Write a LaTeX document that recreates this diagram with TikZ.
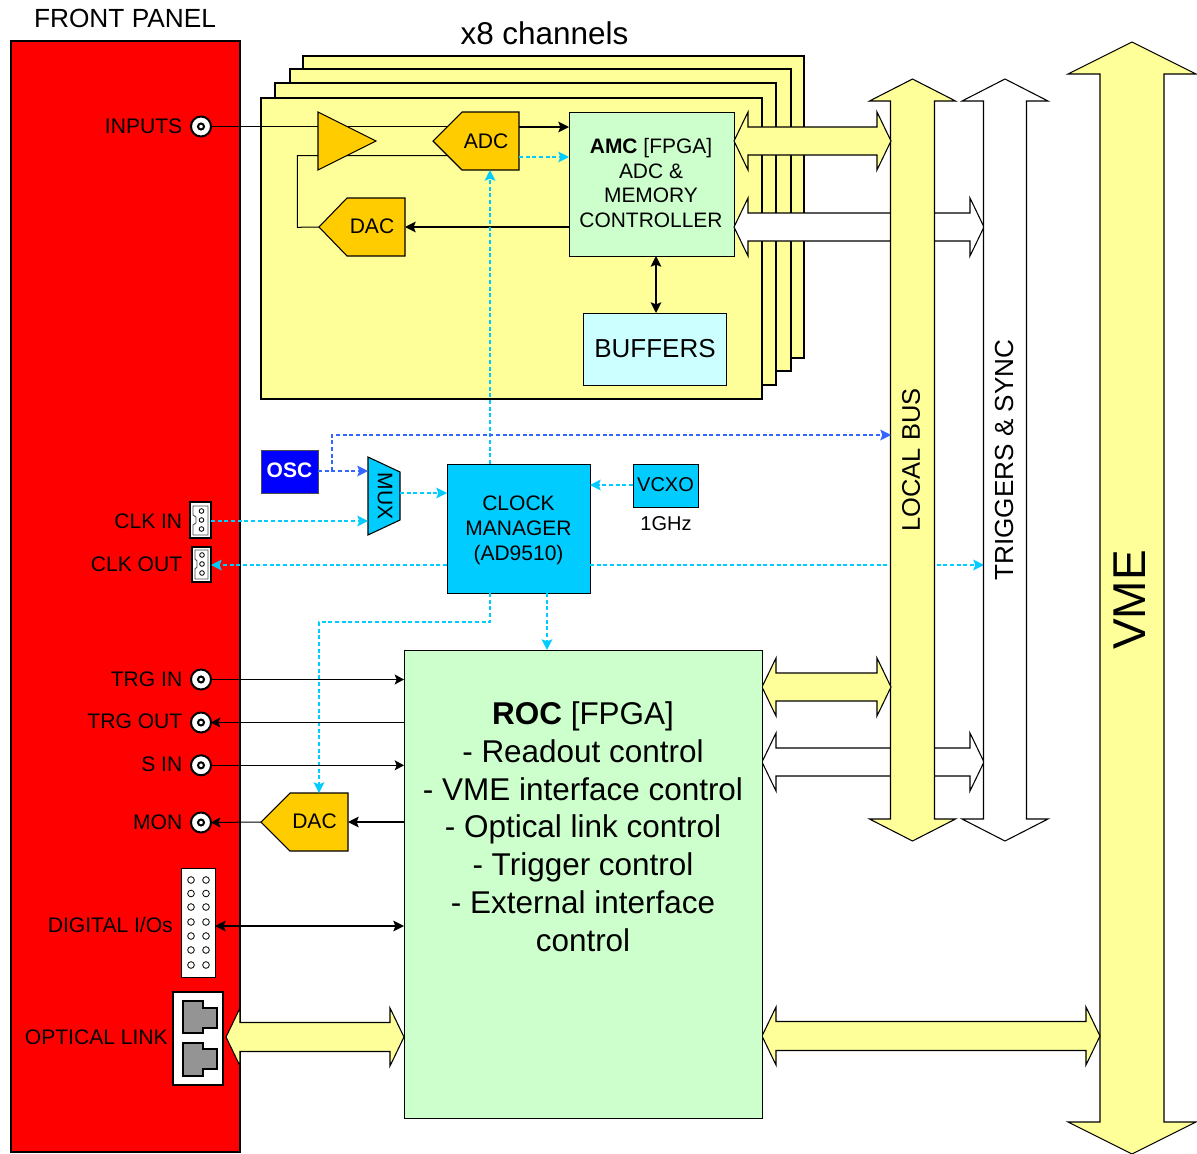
\documentclass[tikz,border=0pt]{standalone}
\usepackage{fontspec}
\setmainfont{Liberation Sans}
\usetikzlibrary{arrows.meta,calc}
\newcommand\szA{\fontsize{15.8pt}{19pt}\selectfont}
\newcommand\szB{\fontsize{19.7pt}{23pt}\selectfont}
\newcommand\szC{\fontsize{23.6pt}{28.4pt}\selectfont}
% box from corner (x1,y1) to (x2,y2)
\newcommand\pxbox[6]{%
  \pgfmathsetmacro\bw{(#4-#2)*0.75}\pgfmathsetmacro\bh{(#5-#3)*0.75}%
  \node[#6,minimum width=\bw pt,minimum height=\bh pt,inner sep=0pt,outer sep=0pt] (#1) at ({(#2+#4)/2},{(#3+#5)/2}) {};}
% horizontal double block arrow: x1,x2,yc,shaft half,head half,style
\newcommand\hblock[6]{\draw[#6] (#1,#3) -- (#1+14,#3-#5) -- (#1+14,#3-#4) -- (#2-14,#3-#4) -- (#2-14,#3-#5) -- (#2,#3) -- (#2-14,#3+#5) -- (#2-14,#3+#4) -- (#1+14,#3+#4) -- (#1+14,#3+#5) -- cycle;}
% vertical double block arrow: xc,y1,y2,shaft half,head half,head len,style
\newcommand\vblock[7]{\draw[#7] (#1,#2) -- (#1+#5,#2+#6) -- (#1+#4,#2+#6) -- (#1+#4,#3-#6) -- (#1+#5,#3-#6) -- (#1,#3) -- (#1-#5,#3-#6) -- (#1-#4,#3-#6) -- (#1-#4,#2+#6) -- (#1-#5,#2+#6) -- cycle;}
\newcommand\bnc[2]{\node[bncouter] (#1) at (201,#2) {};\node[bncinner] at (201,#2) {};}
\definecolor{pyellow}{HTML}{FFFF99}
\definecolor{pamber}{HTML}{FFCC00}
\definecolor{pgreen}{HTML}{CCFFCC}
\definecolor{plcyan}{HTML}{CCFFFF}
\definecolor{pcyan}{HTML}{00CCFF}
\definecolor{pblue}{HTML}{3366FF}
\tikzset{
  thin line/.style={draw=black,line width=0.75pt},
  card/.style={draw=black,fill=pyellow,line width=1.5pt},
  block/.style={draw=black,line width=0.8pt,line join=miter},
  yblock/.style={block,fill=pyellow},
  wblock/.style={block,fill=white},
  amber/.style={draw=black,fill=pamber,line width=0.8pt},
  sig/.style={draw=black,line width=0.75pt,-{Stealth[length=7pt,width=7.5pt,inset=1.5pt]}},
  sigb/.style={draw=black,line width=1.1pt,-{Stealth[length=8pt,width=8pt,inset=1.5pt]}},
  sigbb/.style={draw=black,line width=1.1pt,{Stealth[length=8pt,width=8pt,inset=1.5pt]}-{Stealth[length=8pt,width=8pt,inset=1.5pt]}},
  cdash/.style={draw=pcyan,line width=1.3pt,dash pattern=on 3pt off 2pt,-{Stealth[length=8pt,width=8pt,inset=1.5pt]}},
  bdash/.style={draw=pblue,line width=1.3pt,dash pattern=on 3pt off 2pt,-{Stealth[length=8pt,width=8pt,inset=1.5pt]}},
  lab/.style={inner sep=0pt,font=\szA,text=black},
  rlab/.style={lab,anchor=east},
  bncouter/.style={circle,draw=black,fill=white,line width=1.5pt,minimum size=15pt,inner sep=0pt,outer sep=0pt},
  bncinner/.style={circle,draw=black,fill=white,line width=1.5pt,minimum size=4.5pt,inner sep=0pt},
  pinhole/.style={circle,draw=black,fill=white,line width=0.6pt,minimum size=5pt,inner sep=0pt},
  smallhole/.style={circle,draw=black,fill=white,line width=0.6pt,minimum size=3.5pt,inner sep=0pt},
  rj/.style={draw=black,fill=black!42,line width=1.1pt},
}
\begin{document}
\begin{tikzpicture}[x=0.75pt,y=-0.75pt]
\useasboundingbox (0,0) rectangle (1197,1154);
% front panel
\pxbox{panel}{11}{41}{240}{1152}{draw=black,fill=red,line width=1.5pt}
\node[lab,font=\szB] (fptitle) at (125,18.5) {FRONT PANEL};
% channel cards
\pxbox{card4}{303}{56}{804}{358}{card}
\pxbox{card3}{290}{69}{791}{371}{card}
\pxbox{card2}{275}{83}{776}{385}{card}
\pxbox{card1}{261}{98}{762}{399}{card}
\node[lab,font=\szC] (x8) at (544.5,33.5) {x8 channels};
% connectors on panel
\bnc{inputs}{126.5}
\bnc{trgin}{679.5}
\bnc{trgout}{722.5}
\bnc{sin}{765.3}
\bnc{mon}{822.5}
\node[rlab] (linputs) at (182.5,126) {INPUTS};
\node[rlab] (lclkin) at (182.5,521) {CLK IN};
\node[rlab] (lclkout) at (182.5,564) {CLK OUT};
\node[rlab] (ltrgin) at (182.5,679) {TRG IN};
\node[rlab] (ltrgout) at (182.5,721) {TRG OUT};
\node[rlab] (lsin) at (182.5,764) {S IN};
\node[rlab] (lmon) at (182.5,822) {MON};
\node[rlab] (ldig) at (173,925) {DIGITAL I/Os};
\node[rlab] (lopt) at (168,1037) {OPTICAL LINK};
% CLK IN
\pxbox{clkin}{190}{502}{211}{538}{draw=black,fill=white,line width=0.8pt}
\draw[draw=black!70,line width=0.7pt] (193,506) -- (208,506) -- (208,535) -- (193,535) -- (193,525) -- (196,523) -- (196,517) -- (193,515) -- cycle;
\foreach \yy in {511,520,529} \node[smallhole] at (201.5,\yy) {};
% CLK OUT
\pxbox{clkout}{192}{547}{211}{582}{draw=black,fill=white,line width=0.8pt}
\draw[draw=black!70,line width=0.7pt] (195,550) -- (208,550) -- (208,579) -- (195,579) -- (195,569) -- (197,567) -- (197,561) -- (195,559) -- cycle;
\foreach \yy in {555,564,573} \node[smallhole] at (202,\yy) {};
% Digital I/O
\pxbox{digio}{181}{868}{215}{977}{draw=black,fill=white,line width=0.6pt}
\foreach \yy in {880,893.5,907,922,936,950,965} {\node[pinhole] at (191,\yy) {};\node[pinhole] at (206,\yy) {};}
% optical
\pxbox{optbox}{173}{992}{223}{1085}{draw=black,fill=white,line width=1.1pt}
\draw[rj] (183,1001) -- (203,1001) -- (203,1008) -- (217,1008) -- (217,1028) -- (203,1028) -- (203,1033) -- (183,1033) -- cycle;
\draw[rj] (183,1043) -- (203,1043) -- (203,1049) -- (217,1049) -- (217,1069) -- (203,1069) -- (203,1076) -- (183,1076) -- cycle;
% front-end coordinates
\coordinate (amptop) at (318,112);
\coordinate (ampbot) at (318,170);
\coordinate (amptip) at (376,141);
\coordinate (adctip) at (433,141);
\coordinate (dactip) at (319,227);
\coordinate (fb) at (297.3,227.3);
% lines behind the amplifier
\draw[thin line] (inputs.east) -- (adctip |- inputs.east) -- +(15,0);
\draw[thin line] (447,155.5) -- (fb |- 0,155.5) -- (fb) -- (dactip);
\draw[amber] (amptop) -- (amptip) -- (ampbot) -- cycle;
\draw[amber] (adctip) -- (462,112) -- (519,112) -- (519,170) -- (462,170) -- cycle;
\node[lab] (ladc) at (486,141) {ADC};
\draw[amber] (dactip) -- (347,198) -- (405,198) -- (405,256) -- (347,256) -- cycle;
\node[lab] (ldac) at (372,226.5) {DAC};
\coordinate (adcr) at (519,141);
\coordinate (adcb) at (490,170);
\coordinate (dacr) at (405,227);
% AMC & buffers
\pxbox{amc}{569}{112}{734}{256}{draw=black,fill=pgreen,line width=0.7pt}
\node[lab,align=center,font=\fontsize{15.7pt}{18.7pt}\selectfont] (amct) at (651,183) {\textbf{AMC} [FPGA]\\ADC \&\\MEMORY\\CONTROLLER};
\pxbox{buffers}{583}{313}{726}{385}{draw=black,fill=plcyan,line width=0.7pt}
\node[lab,font=\fontsize{19.5pt}{23pt}\selectfont] (lbuf) at (655,348.5) {BUFFERS};
\draw[sigb] (adcr |- 0,127) -- (amc.west |- 0,127);
\draw[cdash] (adcr |- 0,157) -- (amc.west |- 0,157);
\draw[sigb] (amc.west |- dacr) -- (dacr);
\draw[sigbb] (amc.south -| 656,0) -- (buffers.north -| 656,0);
% block arrows, horizontal
\hblock{734}{984}{227}{14}{29}{wblock}
\hblock{762}{984}{762}{14}{29}{wblock}
% clock out to the triggers (behind the buses)
\pxbox{cm}{447}{464}{590}{593}{draw=black,fill=pcyan,line width=0.7pt}
\coordinate (trgedge) at (984,565);
\coordinate (lbedge) at (891,435);
\draw[cdash] (cm.east |- trgedge) -- (trgedge);
% vertical buses
\vblock{1005}{79}{841}{21.5}{43}{22}{wblock}
\vblock{912.5}{79}{841}{22}{43}{22}{yblock}
\vblock{1132}{42}{1154}{32}{64}{32}{yblock}
\hblock{734}{891}{141}{14}{29}{yblock}
\hblock{762}{891}{687}{14}{29}{yblock}
\hblock{762}{1100}{1036}{14.5}{29}{yblock}
\hblock{226}{404}{1037}{14.5}{29}{yblock}
\node[lab,rotate=90,font=\fontsize{19.1pt}{22pt}\selectfont] (llb) at (911,460) {LOCAL BUS};
\node[lab,rotate=90,font=\fontsize{19.6pt}{23pt}\selectfont] (ltrg) at (1004,460) {TRIGGERS \& SYNC};
\node[lab,rotate=90,font=\fontsize{34.5pt}{38pt}\selectfont] (lvme) at (1130,600) {VME};
% clock section
\node[lab,align=center,font=\fontsize{15.75pt}{19pt}\selectfont,text depth=0pt] (lcm) at (518.5,528) {CLOCK\\MANAGER\\(AD9510)};
\pxbox{vcxo}{633}{464}{698}{507}{draw=black,fill=pcyan,line width=0.7pt}
\node[lab,font=\fontsize{15pt}{18pt}\selectfont] (lvcxo) at (665.5,485) {VCXO};
\node[lab,font=\fontsize{15pt}{18pt}\selectfont] (l1g) at (666,524) {1GHz};
\pxbox{osc}{261}{450}{318}{493}{draw=black!70,fill=blue,line width=0.7pt}
\node[lab,text=white,font=\fontsize{15.75pt}{19pt}\selectfont\bfseries] (losc) at (289.5,470) {OSC};
\draw[draw=black,fill=pcyan,line width=0.8pt] (368,457) -- (400,472) -- (400,520) -- (368,535) -- cycle;
\coordinate (muxl) at (368,471);
\coordinate (muxl2) at (368,521);
\coordinate (muxr) at (400,493);
\node[lab,rotate=-90] (lmux) at (385,496) {MUX};
% clock connectors
\draw[cdash] (cm.north -| adcb) -- (adcb);
\draw[bdash] (osc.east |- muxl) -- (muxl);
\draw[bdash] (332,471) -- (332,435) -- (lbedge);
\draw[cdash] (muxr) -- (cm.west |- muxr);
\coordinate (vcxol) at (633,485);
\draw[cdash] (vcxol) -- (cm.east |- vcxol);
\draw[cdash] (clkin.east |- muxl2) -- (muxl2);
\draw[cdash] (cm.west |- 0,565) -- (clkout.east |- 0,565);
% ROC
\pxbox{roc}{404}{650}{762}{1118}{draw=black,fill=pgreen,line width=0.7pt}
\node[lab,align=center,font=\szC] (lroc) at (583,826.7) {\textbf{ROC} [FPGA]\\- Readout control\\- VME interface control\\- Optical link control\\- Trigger control\\- External interface\\control};
\draw[cdash] (cm.south -| 547,0) -- (roc.north -| 547,0);
% mon DAC
\draw[amber] (261,822) -- (290,793) -- (348,793) -- (348,851) -- (290,851) -- cycle;
\coordinate (mdactip) at (261,822);
\coordinate (mdacr) at (348,822);
\coordinate (mdact) at (319,793);
\node[lab] (lmdac) at (314.5,821.5) {DAC};
\draw[cdash] (cm.south -| 490,0) -- (490,622) -- (319,622) -- (mdact);
\draw[sig] (trgin.east) -- (roc.west |- trgin.east);
\draw[sig] (roc.west |- trgout.east) -- (trgout.east);
\draw[sig] (sin.east) -- (roc.west |- sin.east);
\draw[sig] (mdactip) -- (mon.east);
\draw[sigb] (roc.west |- mdacr) -- (mdacr);
\draw[sigbb] (digio.east |- 0,926) -- (roc.west |- 0,926);
\end{tikzpicture}
\end{document}
